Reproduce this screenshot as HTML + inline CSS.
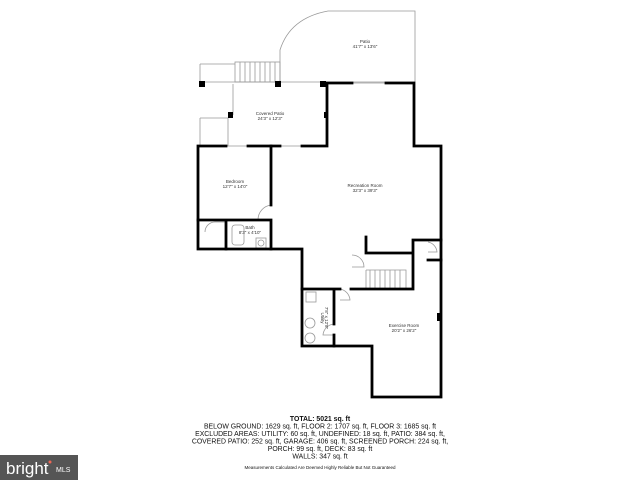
<!DOCTYPE html>
<html><head><meta charset="utf-8"><style>
html,body{margin:0;padding:0;background:#fff;width:640px;height:480px;overflow:hidden}
svg{display:block}
text{font-family:"Liberation Sans",sans-serif}
</style></head><body>
<svg width="640" height="480" viewBox="0 0 640 480" xmlns="http://www.w3.org/2000/svg">
<g fill="none" stroke="#999" stroke-width="0.8">
<path d="M280 82 L280 50 Q290 18 328 11 L415 11 L415 82"/>
<path d="M200 64 L235 64 M200 64 L200 82 M200 82 L415 82"/>
<rect x="235" y="62" width="45" height="20"/>
<path d="M240 62v20M245 62v20M250 62v20M255 62v20M260 62v20M265 62v20M270 62v20M275 62v20"/>
<path d="M233 84 L233 115 M200 118 L228 118 L228 146 M200 118 L200 146"/>
<path d="M366 270 L406 270 L406 289 M366 270 L366 289"/>
<path d="M370 270v19M375 270v19M380 270v19M385 270v19M390 270v19M395 270v19M400 270v19"/>
<path d="M271 205 A15 15 0 0 0 258 220 M226 222 L215 222 A10 10 0 0 0 205 232 M340 289 A12 12 0 0 1 350 300 L340 300 M334 324 A12 12 0 0 0 323 335 L334 335 M352 255 A12 12 0 0 1 364 267 L352 267 M428 242 A11 11 0 0 1 437 252 L428 252"/>
<rect x="232" y="225" width="12" height="20" rx="3"/><rect x="256" y="238" width="10" height="10"/><circle cx="261" cy="243" r="3"/>
<rect x="306" y="292" width="10" height="10"/><circle cx="310" cy="323" r="5"/><circle cx="310" cy="338" r="5"/>
<path d="M226 146h22M280 146h22M352 83h34"/>
</g>
<g fill="#000">
<rect x="199" y="81" width="6" height="6"/><rect x="275" y="81" width="6" height="6"/><rect x="320" y="81" width="6" height="6"/><rect x="228" y="112" width="5" height="6"/><rect x="324" y="112" width="4" height="6"/><rect x="437" y="313" width="4" height="8"/>
</g>
<g fill="none" stroke="#000" stroke-width="2.8" stroke-linecap="square">
<path d="M322 83 L352 83 M386 83 L414 83 L414 146 L441 146 L441 397 L372 397 L372 346 L302 346 L302 249 L198 249 L198 146 L226 146 M248 146 L280 146 M302 146 L327 146 L327 83"/>
<path d="M271 146 L271 205 M271 220 L271 249 M198 220 L271 220 M226 220 L226 249"/>
<path d="M366 237 L366 253 L413 253 M413 240 L413 289 L351 289 M340 289 L302 289 M334 289 L334 324 M334 335 L334 346 M413 240 L441 240 M428 260 L441 260"/>
</g>
<g font-size="4.5" fill="#333" text-anchor="middle">
<text x="365" y="43">Patio</text><text x="365" y="48">41'7" x 13'6"</text>
<text x="270" y="115">Covered Patio</text><text x="270" y="120">24'3" x 12'3"</text>
<text x="235" y="183">Bedroom</text><text x="235" y="188">12'7" x 14'0"</text>
<text x="365" y="187">Recreation Room</text><text x="365" y="192">32'3" x 39'3"</text>
<text x="250" y="229">Bath</text><text x="250" y="234">8'3" x 4'10"</text>
<text x="404" y="327">Exercise Room</text><text x="404" y="332">20'2" x 26'2"</text>
<text transform="translate(321 318) rotate(90)">Utility</text><text transform="translate(325 318) rotate(90)">7'8" x 12'8"</text>
</g>
<g font-size="6.9" fill="#111" text-anchor="middle">
<text x="320" y="421" font-weight="bold">TOTAL: 5021 sq. ft</text>
<text x="320" y="428.5">BELOW GROUND: 1629 sq. ft, FLOOR 2: 1707 sq. ft, FLOOR 3: 1685 sq. ft</text>
<text x="320" y="436">EXCLUDED AREAS: UTILITY: 60 sq. ft, UNDEFINED: 18 sq. ft, PATIO: 384 sq. ft,</text>
<text x="320" y="443.5">COVERED PATIO: 252 sq. ft, GARAGE: 406 sq. ft, SCREENED PORCH: 224 sq. ft,</text>
<text x="320" y="451">PORCH: 99 sq. ft, DECK: 83 sq. ft</text>
<text x="320" y="458.5">WALLS: 347 sq. ft</text>
<text x="320" y="469" font-size="4.5">Measurements Calculated Are Deemed Highly Reliable But Not Guaranteed</text>
</g>
<rect x="0" y="455" width="78" height="25" fill="#555"/>
<text x="6" y="474" font-family="Liberation Serif,serif" font-size="17" fill="#fff">bright</text>
<text x="56" y="472" font-size="7" fill="#fff">MLS</text>
<circle cx="50" cy="462" r="1.5" fill="#e65"/>
</svg>
</body></html>
